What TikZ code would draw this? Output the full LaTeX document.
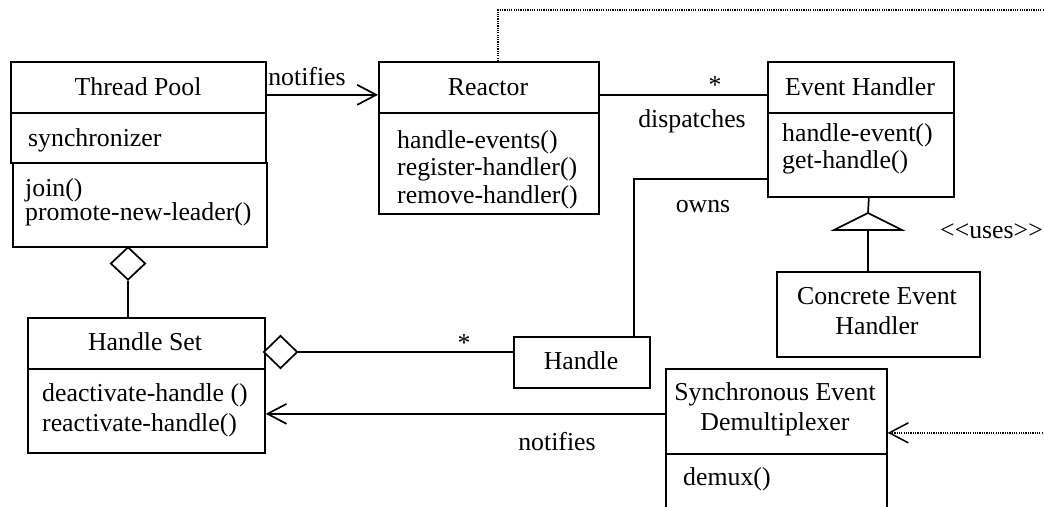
\documentclass[tikz,border=0pt]{standalone}
\usepackage{fontspec}
\setmainfont{Liberation Serif}
\usetikzlibrary{arrows.meta,shapes.geometric}
\begin{document}
\begin{tikzpicture}[x=1pt,y=-1pt,
  every node/.style={font=\fontsize{25.8}{28}\selectfont, inner sep=0pt},
  box/.style={draw, line width=1.7pt, rectangle, anchor=north west, inner sep=0pt},
  txt/.style={anchor=base},
  txtl/.style={anchor=base west},
  link/.style={line width=1.7pt},
  openarr/.style={-{Straight Barb[length=19pt,width=20pt,line width=1.7pt]}},
  dots/.style={line width=1.3pt, dash pattern=on 1.2pt off 1.1pt},
  agg/.style={draw, diamond, line width=1.7pt, minimum width=35pt, minimum height=33pt, inner sep=0pt, fill=white}]

% canvas
\fill[white] (0,0) rectangle (1044,506);
\useasboundingbox (0,0) rectangle (1044,506);

% Thread Pool
\node[box, minimum width=255pt, minimum height=51pt] (tpName) at (10,61) {};
\node[box, minimum width=255pt, minimum height=50pt] (tpAttr) at (10,112) {};
\node[box, minimum width=254pt, minimum height=84pt] (tpOps) at (12,162) {};
\node[txt]  (tTP)   at (138,95)  {Thread Pool};
\node[txtl] (tSync) at (28,146)  {synchronizer};
\node[txtl] (tJoin) at (25,196)  {join()};
\node[txtl] (tProm) at (25,220)  {promote-new-leader()};

% Reactor
\node[box, minimum width=220pt, minimum height=51pt] (rName) at (378,61) {};
\node[box, minimum width=220pt, minimum height=101pt] (rOps) at (378,112) {};
\node[txt]  (tR)    at (488,95)  {Reactor};
\node[txtl] (tHE)   at (397,148) {handle-events()};
\node[txtl] (tReg)  at (397,175) {register-handler()};
\node[txtl] (tRem)  at (397,203) {remove-handler()};

% Event Handler
\node[box, minimum width=186pt, minimum height=51pt] (ehName) at (767,61) {};
\node[box, minimum width=186pt, minimum height=84pt] (ehOps) at (767,112) {};
\node[txt]  (tEH)   at (860,95)  {Event Handler};
\node[txtl] (tHEv)  at (782,141) {handle-event()};
\node[txtl] (tGH)   at (782,168) {get-handle()};

% Concrete Event Handler
\node[box, minimum width=203pt, minimum height=85pt] (ceh) at (776,271) {};
\node[txt]  (tCE1)  at (877,304) {Concrete Event};
\node[txt]  (tCE2)  at (877,334) {Handler};

% Handle Set
\node[box, minimum width=237pt, minimum height=51pt] (hsName) at (27,317) {};
\node[box, minimum width=237pt, minimum height=84pt] (hsOps) at (27,368) {};
\node[txt]  (tHS)   at (145,350) {Handle Set};
\node[txtl] (tDeac) at (42,401)  {deactivate-handle ()};
\node[txtl] (tReac) at (42,431)  {reactivate-handle()};

% Handle
\node[box, minimum width=136pt, minimum height=51pt] (hd) at (513,336) {};
\node[txt]  (tHd)   at (581,369) {Handle};

% Synchronous Event Demultiplexer
\node[box, minimum width=221pt, minimum height=85pt] (sedName) at (665,368) {};
\node[box, minimum width=221pt, minimum height=70pt] (sedOps) at (665,453) {};
\node[txt]  (tSE1)  at (775,400) {Synchronous Event};
\node[txt]  (tSE2)  at (775,430) {Demultiplexer};
\node[txtl] (tDmx)  at (683,485) {demux()};

% Thread Pool notifies Reactor
\draw[link,openarr] ([yshift=-7.5pt]tpName.east) -- ([yshift=-7.5pt]rName.west);
\node[txt] (lNot1) at (307,85) {notifies};

% Reactor dispatches Event Handler
\draw[link] ([yshift=-7.5pt]rName.east) -- ([yshift=-7.5pt]ehName.west);
\node[txt] (lStar1) at (715,93) {*};
\node[txt] (lDisp) at (692,127) {dispatches};

% Event Handler owns Handle
\draw[link] ([yshift=-24pt]ehOps.west) -| ([xshift=52pt]hd.north);
\node[txt] (lOwns) at (703,212) {owns};

% generalization
\coordinate (triTop) at (868,213);
\coordinate (triBase) at (868,230);
\draw[link] ([xshift=8pt]ehOps.south) -- (triTop);
\draw[link, line join=miter] (triTop) -- ++(-34,17) -- ++(68,0) -- cycle;
\draw[link] (triBase) -- (triBase |- ceh.north);

% Thread Pool aggregates Handle Set
\node[agg] (dTP) at (128,263.5) {};
\draw[link] (dTP.south) -- (dTP.south |- hsName.north);

% Handle Set aggregates Handles
\node[agg, minimum width=34pt] (dHS) at (280.5,352) {};
\draw[link] (dHS.east) -- (dHS.east -| hd.west);
\node[txt] (lStar2) at (464,351) {*};

% Demultiplexer notifies Handle Set
\draw[link,openarr] ([yshift=-2.5pt]sedName.west) -- ([yshift=-2.5pt]sedName.west -| hsOps.east);
\node[txt] (lNot2) at (557,450) {notifies};

% Reactor uses Demultiplexer
\coordinate (dotNE) at (1052,10);
\draw[dots, -{Straight Barb[length=19pt,width=20pt,line width=1.5pt]}]
  ([xshift=9pt]rName.north) |- (dotNE) |- ([yshift=-21.5pt]sedName.east);
\node[txtl] (lUses) at (940,238) {{<}{<}uses{>}{>}};

\end{tikzpicture}
\end{document}
